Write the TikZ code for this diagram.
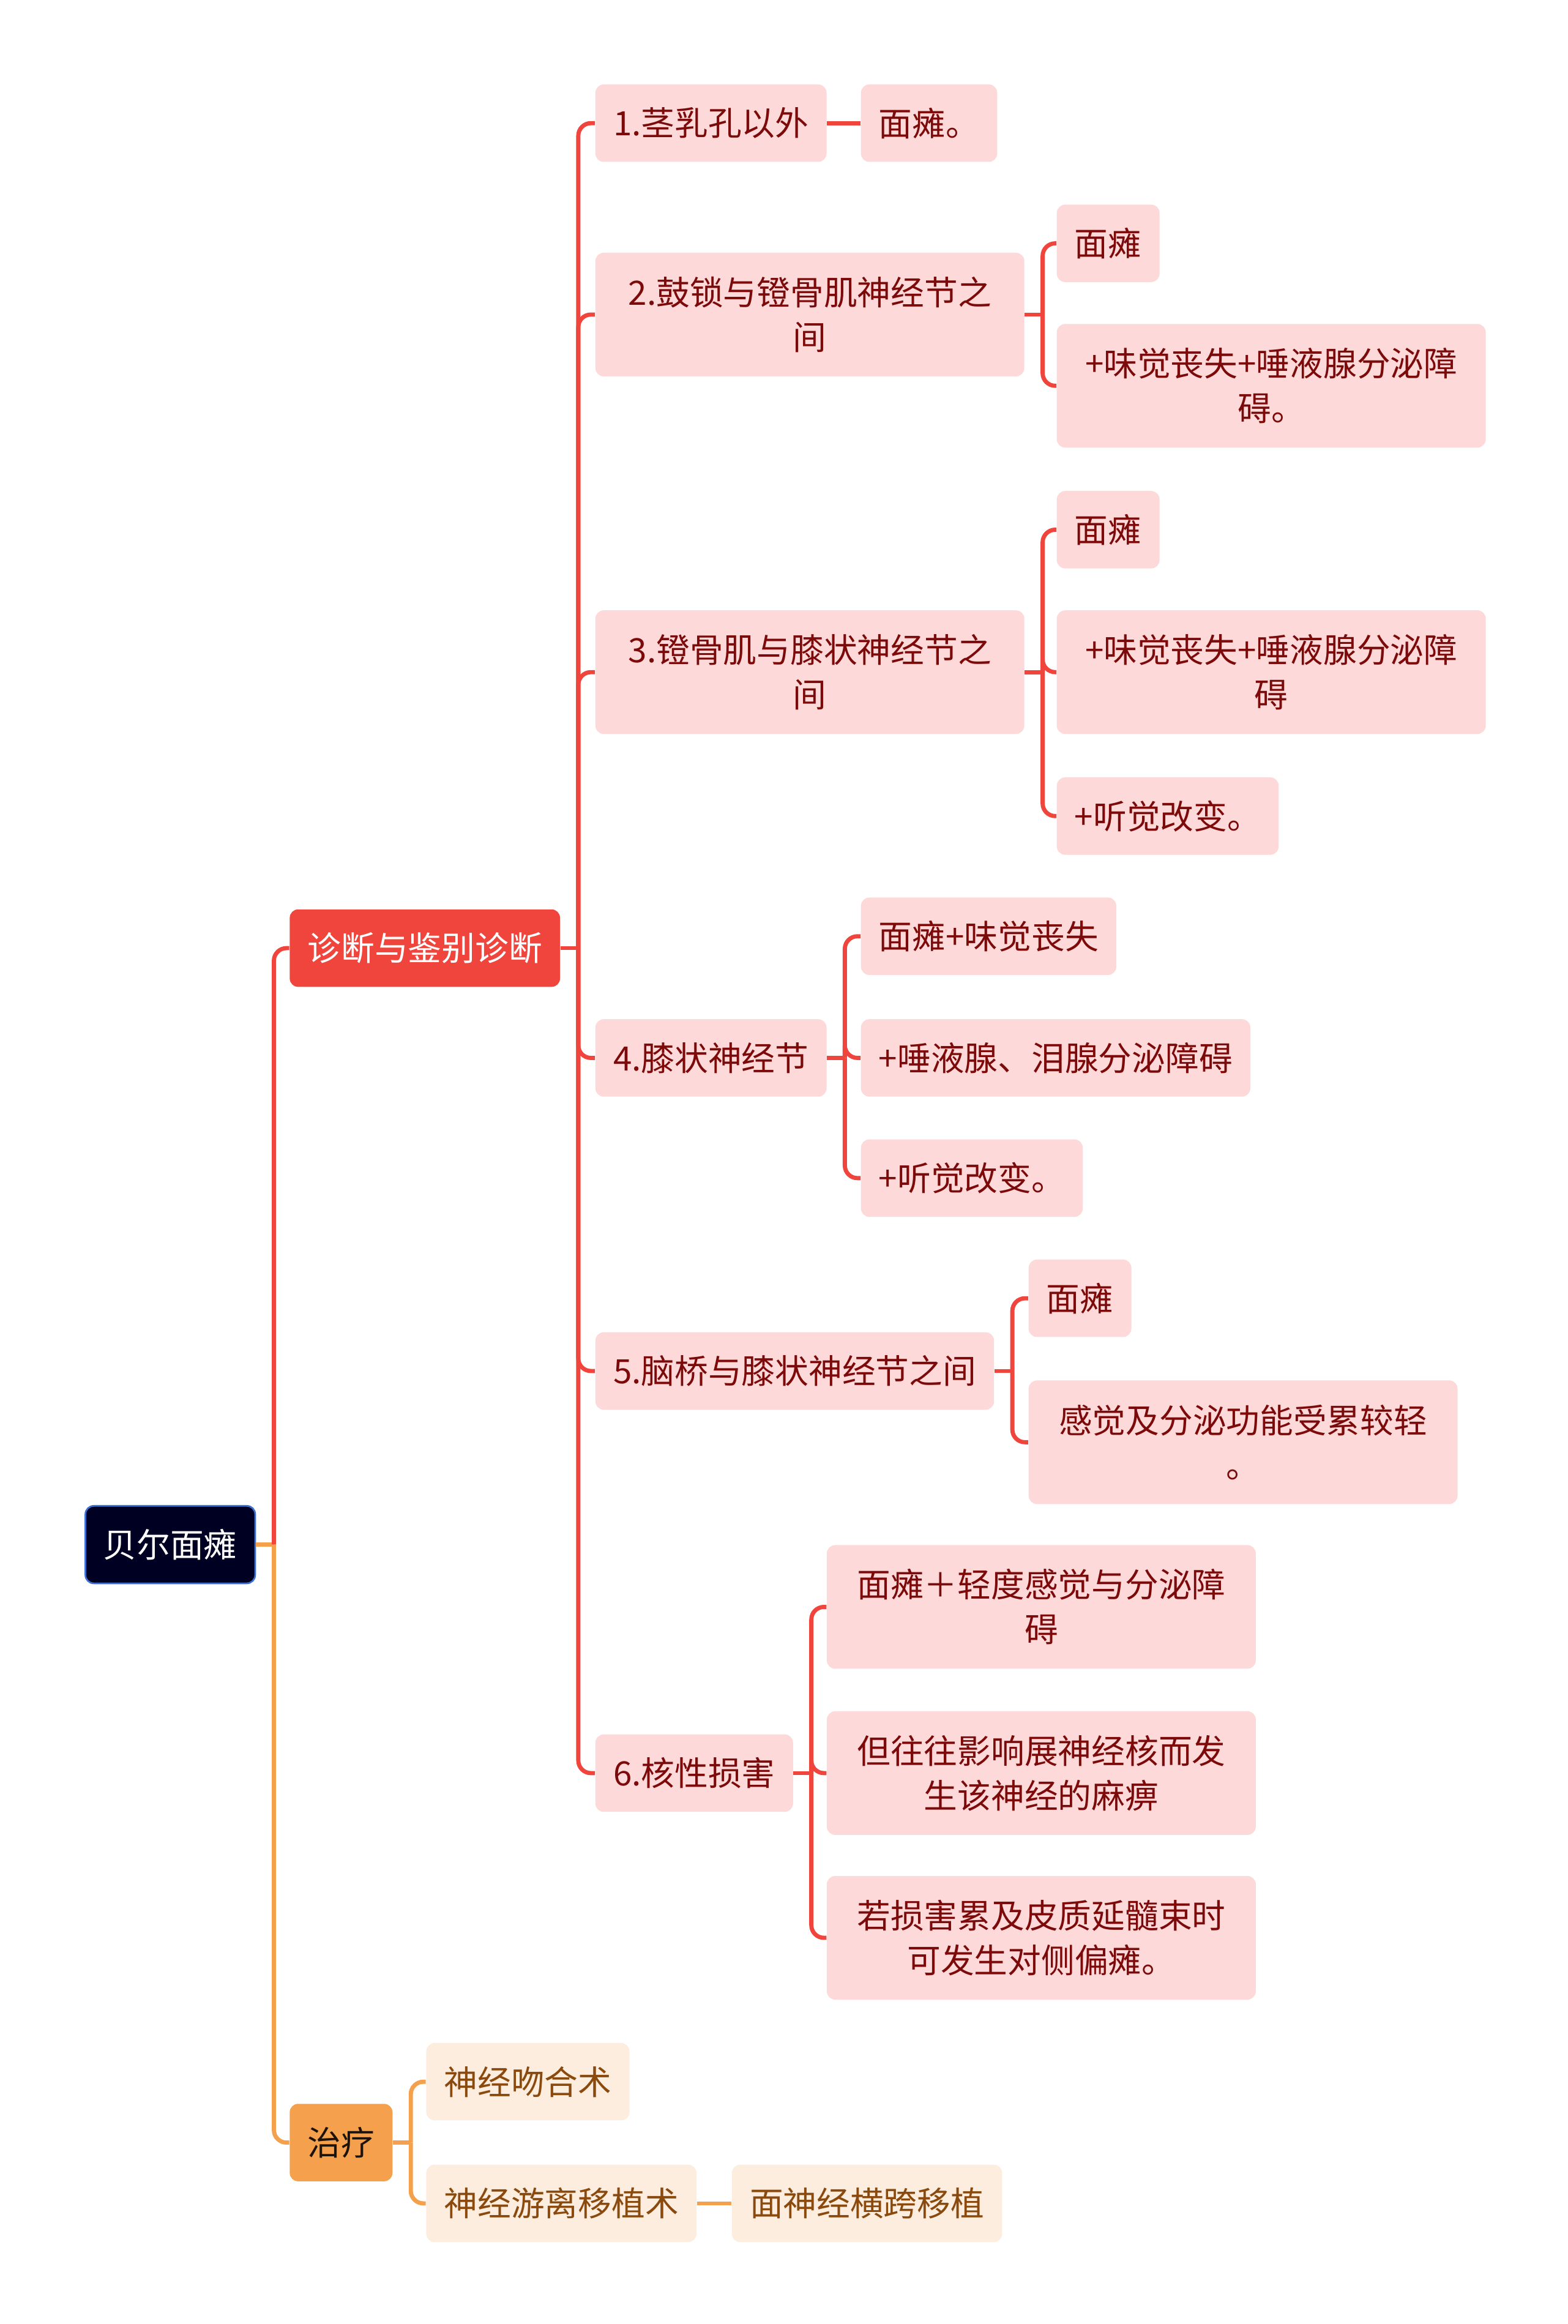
\documentclass[tikz,border=0pt]{standalone}
\usepackage{fontspec}
\setmainfont{Noto Sans CJK SC}
\definecolor{mred}{HTML}{F0453D}
\definecolor{mpink}{HTML}{FDD9D9}
\definecolor{mdark}{HTML}{7D0A0A}
\definecolor{morange}{HTML}{F4A04C}
\definecolor{mcream}{HTML}{FDEDDF}
\definecolor{mbrown}{HTML}{8A4A0E}
\definecolor{mnavy}{HTML}{000022}
\definecolor{mblue}{HTML}{3B6FD4}
\tikzset{box/.style = {rounded corners=4pt, inner xsep=0.3cm, inner ysep=0pt,
                       minimum height=1.3cm, anchor=west,
                       font=\fontsize{16}{21.3}\selectfont},
         rootbox/.style = {box, fill=mnavy, draw=mblue, line width=0.8pt, text=white},
         redbox/.style = {box, fill=mred, text=white},
         orangebox/.style = {box, fill=morange, text=black!85!brown},
         redleaf/.style = {box, fill=mpink, text=mdark},
         orangeleaf/.style = {box, fill=mcream, text=mbrown},
         wide/.style = {text width=6.6cm, align=center, minimum height=2.075cm},
         redline/.style = {draw=mred, line width=2pt, rounded corners=6pt},
         orangeline/.style = {draw=morange, line width=2pt, rounded corners=6pt}}

\begin{document}
\begin{tikzpicture}[x=0.0249cm, y=-0.0249cm]
    \useasboundingbox (0, 0) rectangle (1056.6, 1566.3);

    \node [rootbox] (root) at (57, 1041) {贝尔面瘫};
    \node [redbox] (diag) at (195, 639) {诊断与鉴别诊断};
    \node [orangebox] (treat) at (195, 1444) {治疗};

    % diagnosis branch
    \node [redleaf] (a1) at (401, 83) {1.茎乳孔以外};
    \node [redleaf, wide] (a2) at (401, 212) {2.鼓锁与镫骨肌神经节之\\间};
    \node [redleaf, wide] (a3) at (401, 453) {3.镫骨肌与膝状神经节之\\间};
    \node [redleaf] (a4) at (401, 713) {4.膝状神经节};
    \node [redleaf] (a5) at (401, 924) {5.脑桥与膝状神经节之间};
    \node [redleaf] (a6) at (401, 1195) {6.核性损害};

    \node [redleaf] (b1) at (580, 83) {面瘫。};
    \node [redleaf] (b2a) at (712, 164) {面瘫};
    \node [redleaf, wide] (b2b) at (712, 260) {+味觉丧失+唾液腺分泌障\\碍。};
    \node [redleaf] (b3a) at (712, 357) {面瘫};
    \node [redleaf, wide] (b3b) at (712, 453) {+味觉丧失+唾液腺分泌障\\碍};
    \node [redleaf] (b3c) at (712, 550) {+听觉改变。};
    \node [redleaf] (b4a) at (580, 631) {面瘫+味觉丧失};
    \node [redleaf] (b4b) at (580, 713) {+唾液腺、泪腺分泌障碍};
    \node [redleaf] (b4c) at (580, 794) {+听觉改变。};
    \node [redleaf] (b5a) at (693, 875) {面瘫};
    \node [redleaf, wide] (b5b) at (693, 972) {感觉及分泌功能受累较轻\\。};
    \node [redleaf, wide] (b6a) at (557, 1083) {面瘫＋轻度感觉与分泌障\\碍};
    \node [redleaf, wide] (b6b) at (557, 1195) {但往往影响展神经核而发\\生该神经的麻痹};
    \node [redleaf, wide] (b6c) at (557, 1306) {若损害累及皮质延髓束时\\可发生对侧偏瘫。};

    % treatment branch
    \node [orangeleaf] (c1) at (287, 1403) {神经吻合术};
    \node [orangeleaf] (c2) at (287, 1485) {神经游离移植术};
    \node [orangeleaf] (c3) at (493, 1485) {面神经横跨移植};

    % connectors
    \coordinate (jr) at ([xshift=0.3cm]root.east);
    \draw [orangeline] (root.east) -- (jr);
    \draw [redline] (jr) |- (diag.west);
    \draw [orangeline] (jr) |- (treat.west);

    \coordinate (jd) at ([xshift=0.3cm]diag.east);
    \draw [redline] (diag.east) -- (jd);
    \foreach \n in {a1, a2, a3, a4, a5, a6}
        \draw [redline] (jd) |- (\n.west);

    \draw [redline] (a1.east) -- (b1.west);

    \coordinate (j2) at ([xshift=0.3cm]a2.east);
    \draw [redline] (a2.east) -- (j2);
    \foreach \n in {b2a, b2b}
        \draw [redline] (j2) |- (\n.west);

    \coordinate (j3) at ([xshift=0.3cm]a3.east);
    \draw [redline] (a3.east) -- (j3);
    \foreach \n in {b3a, b3b, b3c}
        \draw [redline] (j3) |- (\n.west);

    \coordinate (j4) at ([xshift=0.3cm]a4.east);
    \draw [redline] (a4.east) -- (j4);
    \foreach \n in {b4a, b4b, b4c}
        \draw [redline] (j4) |- (\n.west);

    \coordinate (j5) at ([xshift=0.3cm]a5.east);
    \draw [redline] (a5.east) -- (j5);
    \foreach \n in {b5a, b5b}
        \draw [redline] (j5) |- (\n.west);

    \coordinate (j6) at ([xshift=0.3cm]a6.east);
    \draw [redline] (a6.east) -- (j6);
    \foreach \n in {b6a, b6b, b6c}
        \draw [redline] (j6) |- (\n.west);

    \coordinate (jt) at ([xshift=0.3cm]treat.east);
    \draw [orangeline] (treat.east) -- (jt);
    \foreach \n in {c1, c2}
        \draw [orangeline] (jt) |- (\n.west);

    \draw [orangeline] (c2.east) -- (c3.west);
  \end{tikzpicture}
\end{document}
